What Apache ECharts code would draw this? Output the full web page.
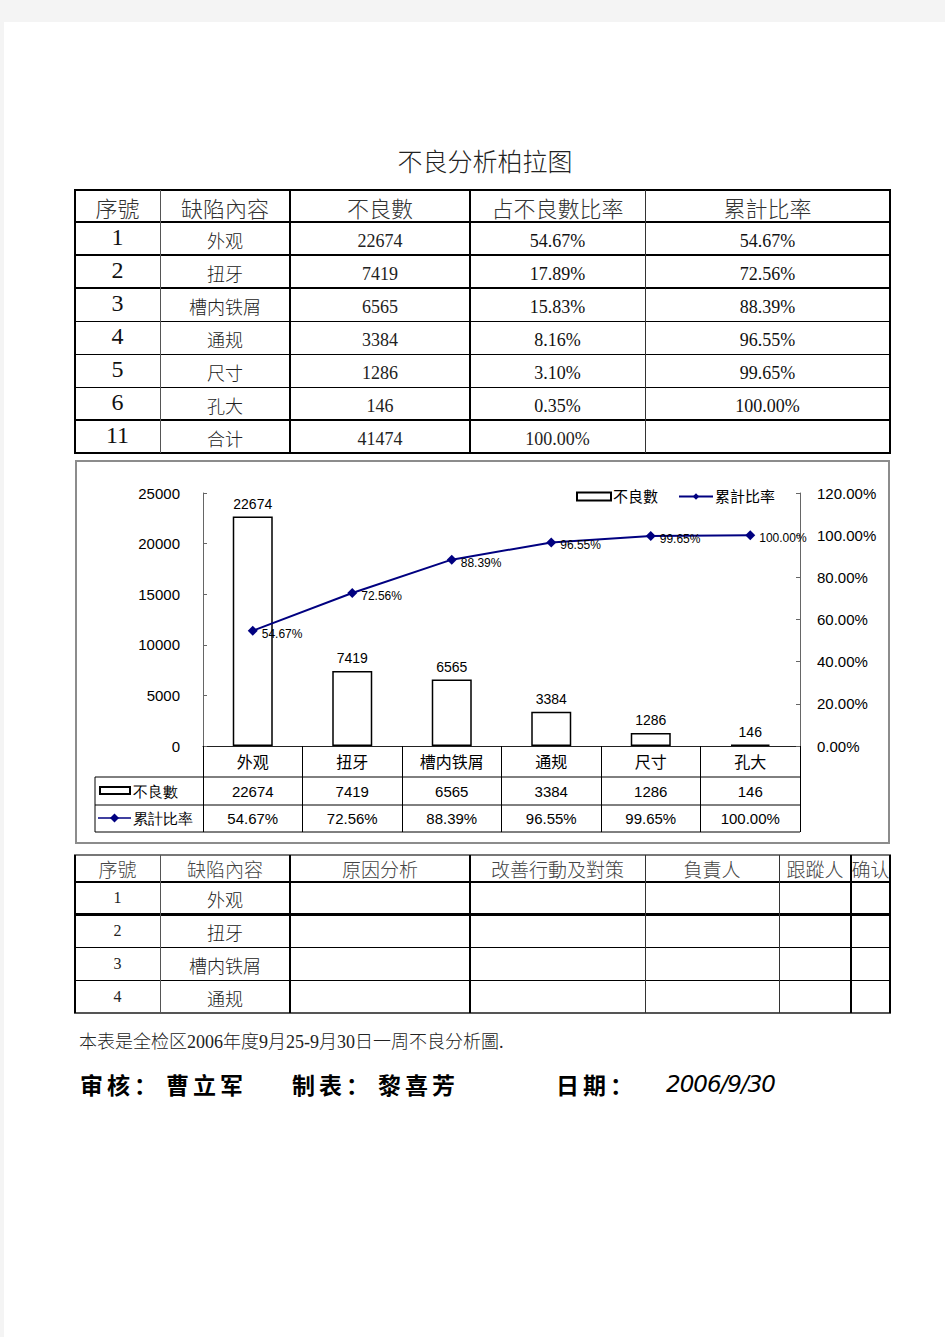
<!DOCTYPE html>
<html>
<head>
<meta charset="utf-8">
<script src="https://cdn.jsdelivr.net/npm/echarts@6/dist/echarts.min.js"></script>
<style>
  html, body { margin: 0; padding: 0; background: #f4f4f4; width: 945px; height: 1337px; overflow: hidden; }
  #page { position: absolute; left: 4px; top: 22px; width: 941px; height: 1315px; background: #fff; }
  .abs { position: absolute; }
  .ln { position: absolute; background: #000; }
  .cell { position: absolute; display: flex; align-items: center; justify-content: center; white-space: nowrap; }
  .cjk { font-family: "Liberation Serif", "Noto Sans CJK SC", serif; }
  #chartBorder { position: absolute; left: 75px; top: 460px; width: 815px; height: 384px; box-sizing: border-box; border: 2px solid #8c8c8c; pointer-events: none; }
  #chart { position: absolute; left: 75px; top: 460px; width: 815px; height: 384px; }
</style>
</head>
<body>
<div id="page"></div>
<div id="root"></div>
<div id="chart"></div>
<div id="chartBorder"></div>
<script>
// ---------------- data ----------------
const categories = ['外观', '扭牙', '槽内铁屑', '通规', '尺寸', '孔大'];
const defectCounts = [22674, 7419, 6565, 3384, 1286, 146];
const shareRates = ['54.67%', '17.89%', '15.83%', '8.16%', '3.10%', '0.35%'];
const cumulativeRates = [54.67, 72.56, 88.39, 96.55, 99.65, 100.00];
const totalCount = 41474;
const totalRate = '100.00%';
const seriesNames = ['不良數', '累計比率'];
const leftTicks = { min: 0, max: 25000, interval: 5000 };
const rightTicks = { min: 0, max: 120, interval: 20 };
const titleText = '不良分析柏拉图';
const topHeaders = ['序號', '缺陷內容', '不良數', '占不良數比率', '累計比率'];
const bottomHeaders = ['序號', '缺陷內容', '原因分析', '改善行動及對策', '負責人', '跟蹤人', '确认'];
const bottomItems = ['外观', '扭牙', '槽内铁屑', '通规'];
const footnote = '本表是全检区2006年度9月25-9月30日一周不良分析圖.';

// ---------------- helpers ----------------
const root = document.getElementById('root');
function line(x, y, w, h, color) {
  const d = document.createElement('div');
  d.className = 'ln';
  d.style.left = x + 'px'; d.style.top = y + 'px';
  d.style.width = w + 'px'; d.style.height = h + 'px';
  if (color) d.style.background = color;
  root.appendChild(d);
}
function cell(x0, x1, y0, y1, text, size, color, extra) {
  const d = document.createElement('div');
  d.className = 'cell cjk';
  d.style.left = x0 + 'px'; d.style.top = y0 + 'px';
  d.style.width = (x1 - x0) + 'px'; d.style.height = (y1 - y0) + 'px';
  d.style.fontSize = size + 'px';
  d.style.color = color || '#111';
  if (extra) Object.assign(d.style, extra);
  d.textContent = text;
  root.appendChild(d);
}
function grid(cols, rows, hw, vw, hc, vc) {
  rows.forEach((y, i) => line(cols[0] - 1, y - Math.floor(hw[i] / 2), cols[cols.length - 1] - cols[0] + 2, hw[i], hc ? hc[i] : null));
  cols.forEach((x, i) => line(x - Math.floor(vw[i] / 2), rows[0], vw[i], rows[rows.length - 1] - rows[0], vc ? vc[i] : null));
}

// ---------------- title ----------------
cell(300, 670, 142, 177, titleText, 25, '#222', { fontWeight: 300 });

// ---------------- top table ----------------
const tCols = [75, 160, 290, 470, 645, 890];
const tRows = [190, 222, 255, 288, 321, 354, 387, 420, 453];
grid(tCols, tRows, [2, 2, 2, 2, 1, 1, 1, 2, 2], [2, 1, 2, 2, 1, 2], null, [null, '#555', null, null, '#333', null]);
topHeaders.forEach((h, i) => cell(tCols[i], tCols[i + 1], tRows[0], tRows[1] + 2, h, 22, '#333', { fontWeight: 300 }));
const cumText = cumulativeRates.map(v => v.toFixed(2) + '%');
for (let r = 0; r < categories.length; r++) {
  const y0 = tRows[r + 1], y1 = tRows[r + 2];
  cell(tCols[0], tCols[1], y0, y1 - 2, String(r + 1), 24, '#111');
  cell(tCols[1], tCols[2], y0 + 2, y1, categories[r], 18, '#222', { fontWeight: 300 });
  cell(tCols[2], tCols[3], y0 + 5, y1, String(defectCounts[r]), 18, '#222');
  cell(tCols[3], tCols[4], y0 + 5, y1, shareRates[r], 18, '#111');
  cell(tCols[4], tCols[5], y0 + 5, y1, cumText[r], 18, '#111');
}
cell(tCols[0], tCols[1], tRows[7], tRows[8] - 2, '11', 24, '#111');
cell(tCols[1], tCols[2], tRows[7] + 2, tRows[8], '合计', 18, '#222', { fontWeight: 300 });
cell(tCols[2], tCols[3], tRows[7] + 5, tRows[8], String(totalCount), 18, '#222');
cell(tCols[3], tCols[4], tRows[7] + 5, tRows[8], totalRate, 18, '#222');

// ---------------- bottom table ----------------
const bCols = [75, 160, 290, 470, 645, 779, 851, 890];
const bRows = [855, 882, 914, 947, 980, 1013];
grid(bCols, bRows, [2, 2, 3, 1, 1, 2], [2, 1, 2, 2, 1, 1, 2, 2], ['#777', null, null, null, null, '#555'], [null, '#555', null, null, '#333', '#333', null, null]);
bottomHeaders.forEach((h, i) => cell(bCols[i], bCols[i + 1], bRows[0], bRows[1], h, 19, '#444', { fontWeight: 300 }));
bottomItems.forEach((name, r) => {
  cell(bCols[0], bCols[1], bRows[r + 1], bRows[r + 2], String(r + 1), 16, '#222');
  cell(bCols[1], bCols[2], bRows[r + 1] + 2, bRows[r + 2], name, 18, '#222', { fontWeight: 300 });
});

// ---------------- footnote & signatures ----------------
cell(79, 600, 1027, 1052, footnote, 18, '#222', { justifyContent: 'flex-start', fontWeight: 300 });
const sig = { fontFamily: '"Noto Sans CJK SC", sans-serif', fontWeight: 'bold', justifyContent: 'flex-start', letterSpacing: '4px' };
cell(80, 160, 1069, 1099, '审核：', 23, '#000', sig);
cell(166, 260, 1069, 1099, '曹立军', 23, '#000', sig);
cell(292, 380, 1069, 1099, '制表：', 23, '#000', sig);
cell(378, 480, 1069, 1099, '黎喜芳', 23, '#000', sig);
cell(556, 640, 1069, 1099, '日期：', 23, '#000', sig);
cell(666, 790, 1069, 1099, '2006/9/30', 23, '#000', { fontFamily: '"DejaVu Sans", sans-serif', fontStyle: 'italic', justifyContent: 'flex-start', letterSpacing: '-1px' });

// ---------------- chart ----------------
const chart = echarts.init(document.getElementById('chart'), null, { renderer: 'svg' });
const FONT = '"Liberation Sans", Arial, "Noto Sans CJK SC", sans-serif';
const G = { left: 128, top: 33, width: 597, height: 253 };
const rowY = [G.top + G.height, 317, 345, 372];
const tableLeft = 20;
const tableRight = G.left + G.width;

const option = {
  animation: false,
  textStyle: { fontFamily: FONT },
  grid: { left: G.left, top: G.top, width: G.width, height: G.height },
  legend: {
    left: 496, top: 24, itemGap: 20, itemWidth: 34, itemHeight: 8,
    textStyle: { fontSize: 15, color: '#000', fontFamily: FONT, padding: [0, 0, 0, -3] },
    data: [
      { name: seriesNames[0], icon: 'rect', itemStyle: { color: '#fff', borderColor: '#000', borderWidth: 2 } },
      { name: seriesNames[1] }
    ]
  },
  xAxis: {
    type: 'category',
    data: categories,
    axisLine: { lineStyle: { color: '#222', width: 1 } },
    axisTick: { show: true, length: rowY[3] - rowY[0], lineStyle: { color: '#000', width: 1 } },
    axisLabel: {
      margin: 0,
      interval: 0,
      verticalAlign: 'top',
      formatter: (v, i) => '{a|' + v + '}\n{b|' + defectCounts[i] + '}\n{c|' + cumulativeRates[i].toFixed(2) + '%}',
      rich: {
        a: { fontSize: 16, lineHeight: rowY[1] - rowY[0], color: '#000', fontFamily: FONT, padding: [2, 0, 0, 0] },
        b: { fontSize: 15, lineHeight: rowY[2] - rowY[1], color: '#000', fontFamily: FONT },
        c: { fontSize: 15, lineHeight: rowY[3] - rowY[2], color: '#000', fontFamily: FONT }
      }
    }
  },
  yAxis: [
    {
      type: 'value', min: leftTicks.min, max: leftTicks.max, interval: leftTicks.interval,
      axisLine: { show: true, lineStyle: { color: '#666' } },
      axisTick: { show: true, inside: true, length: 4, lineStyle: { color: '#666' } },
      axisLabel: { margin: 23, fontSize: 15, color: '#000', fontFamily: FONT, formatter: v => String(v) },
      splitLine: { show: false }
    },
    {
      type: 'value', min: rightTicks.min, max: rightTicks.max, interval: rightTicks.interval,
      axisLine: { show: true, lineStyle: { color: '#666' } },
      axisTick: { show: true, inside: true, length: 4, lineStyle: { color: '#666' } },
      axisLabel: { margin: 17, fontSize: 15, color: '#000', fontFamily: FONT, align: 'left', formatter: v => v.toFixed(2) + '%' },
      splitLine: { show: false }
    }
  ],
  series: [
    {
      name: seriesNames[0], type: 'bar', data: defectCounts, barWidth: 40, yAxisIndex: 0,
      itemStyle: { color: '#fff', borderColor: '#000', borderWidth: 1.5 },
      label: { show: true, position: 'top', distance: 6, fontSize: 14, color: '#000', fontFamily: FONT }
    },
    {
      name: seriesNames[1], type: 'line', data: cumulativeRates, yAxisIndex: 1,
      symbol: 'diamond', symbolSize: 10,
      lineStyle: { color: '#000080', width: 2 },
      itemStyle: { color: '#000080' },
      label: { show: true, position: 'right', distance: 4, offset: [0, 3], fontSize: 12, color: '#000', fontFamily: FONT, formatter: p => p.value.toFixed(2) + '%' }
    }
  ],
  graphic: [
    { type: 'line', shape: { x1: tableLeft, y1: rowY[1], x2: tableRight, y2: rowY[1] }, style: { stroke: '#000', lineWidth: 1 } },
    { type: 'line', shape: { x1: tableLeft, y1: rowY[2], x2: tableRight, y2: rowY[2] }, style: { stroke: '#000', lineWidth: 1 } },
    { type: 'line', shape: { x1: tableLeft, y1: rowY[3], x2: tableRight, y2: rowY[3] }, style: { stroke: '#000', lineWidth: 1 } },
    { type: 'line', shape: { x1: tableLeft, y1: rowY[1], x2: tableLeft, y2: rowY[3] }, style: { stroke: '#000', lineWidth: 1 } },
    { type: 'rect', shape: { x: 25, y: 327, width: 30, height: 7 }, style: { fill: '#fff', stroke: '#000', lineWidth: 2 } },
    { type: 'text', x: 58, y: 331, style: { text: seriesNames[0], fontSize: 15, fill: '#000', font: '15px ' + FONT, textVerticalAlign: 'middle', verticalAlign: 'middle' } },
    { type: 'line', shape: { x1: 23, y1: 358, x2: 56, y2: 358 }, style: { stroke: '#000080', lineWidth: 1.5 } },
    { type: 'polygon', shape: { points: [[39.5, 353.5], [44, 358], [39.5, 362.5], [35, 358]] }, style: { fill: '#000080' } },
    { type: 'text', x: 58, y: 358, style: { text: seriesNames[1], fontSize: 15, fill: '#000', font: '15px ' + FONT, textVerticalAlign: 'middle', verticalAlign: 'middle' } }
  ]
};
chart.setOption(option);
</script>
</body>
</html>
